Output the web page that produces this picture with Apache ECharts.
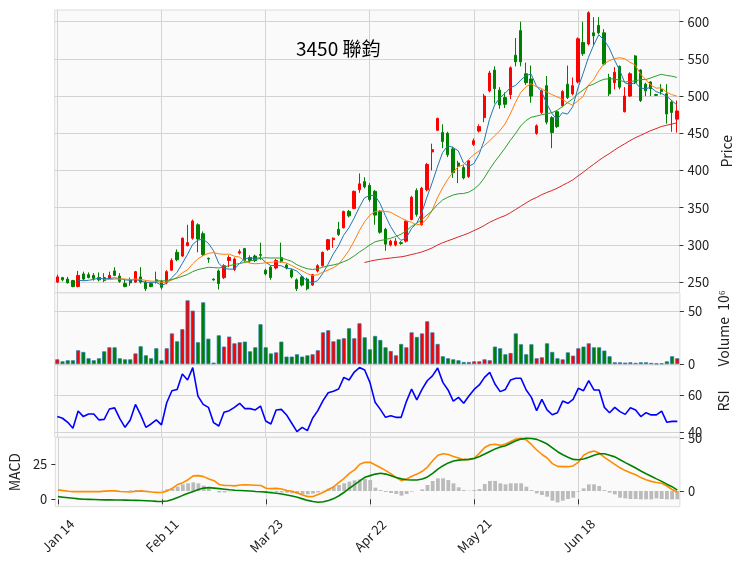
<!DOCTYPE html>
<html>
<head>
<meta charset="utf-8">
<script src="https://cdn.jsdelivr.net/npm/echarts@6/dist/echarts.min.js"></script>
<style>
  html, body { margin: 0; padding: 0; background: #fff; }
  #chart { width: 742px; height: 569px; }
</style>
</head>
<body>
<div id="chart"></div>
<script>
// x tick labels, one every 20 trading days
const tickLabels = ['Jan 14', 'Feb 11', 'Mar 23', 'Apr 22', 'May 21', 'Jun 18'];

// daily prices
const opens = [250,256,254,252,244,261,260,259,256,256,255,265,258,248,253,250,257,250,248,253,
  251,249,266,290,285,299,309,327,315,282,254,265,256,279,267,289,295,283,285,287,
  266,270,269,283,273,266,253,257,254,246,265,272,294,307,321,323,345,349,374,385,
  380,372,345,321,300,300,303,305,334,373,327,374,425,454,451,450,429,410,404,392,
  435,453,471,507,535,508,498,502,555,588,530,523,450,478,514,471,479,487,516,503,
  519,572,570,585,595,585,525,518,540,479,500,554,535,516,519,502,509,503,492,469];
const closes = [257,253,249,244,259,254,256,255,253,252,259,259,251,244,249,264,250,241,244,250,
  243,264,279,280,309,303,332,308,287,281,253,248,272,283,281,291,279,279,279,286,
  261,256,279,278,269,257,241,246,241,260,272,290,307,309,314,345,339,372,382,378,
  361,340,317,301,305,305,302,332,364,341,376,408,428,470,439,421,397,406,390,413,
  440,459,500,531,510,488,489,538,546,546,518,500,460,507,465,451,459,506,498,514,
  577,557,612,581,585,543,503,532,512,500,530,518,494,507,510,501,506,476,478,480];
const lows = [249,251,248,243,243,252,255,252,251,250,254,258,249,243,245,249,248,238,243,248,
  240,247,265,278,284,298,307,290,285,276,252,240,254,270,265,287,277,276,277,280,
  259,253,267,276,267,255,238,244,239,245,263,271,292,296,312,322,337,348,370,376,
  358,327,315,292,298,298,300,303,333,338,326,372,400,453,430,418,390,383,388,390,
  433,451,465,505,490,483,484,496,540,540,515,491,448,476,462,430,457,485,496,501,
  517,554,568,568,583,541,500,509,509,478,499,516,492,500,500,500,502,463,452,451];
const highs = [260,257,257,253,265,264,263,262,263,262,264,270,262,253,256,265,270,252,250,264,
  253,266,282,294,310,327,334,329,318,283,255,267,274,286,283,294,296,286,287,303,
  268,272,281,303,275,268,255,259,256,261,274,291,308,310,331,346,347,373,396,391,
  383,374,347,323,307,309,305,334,366,376,378,410,436,471,462,452,432,413,407,414,
  443,462,503,534,540,512,505,540,578,600,545,541,462,509,527,473,481,508,541,525,
  579,600,614,606,606,590,530,539,541,512,532,555,536,518,520,503,516,516,494,494];

// volume, millions of shares
const volumes = [4.4,2.5,3.5,3.5,13,11.4,5.4,3.5,5.4,12,15.8,15.8,5.4,4.4,4.4,10,16.8,8.2,5.4,14.9,
  3.5,14.9,29,21.5,33,60.4,50.6,20.6,58.5,24,1.3,27.2,16.5,26,19.6,20.6,21.2,12,15.8,37.7,
  15.8,10,11,21.2,7,7,9.2,7,8.2,9.2,13,30,32,21.5,23.4,24.4,33.9,24.4,38.6,25.3,
  13.9,26.6,22.8,15.8,12.3,8.2,19,15.8,30,25.6,29,40.5,30,19,7.3,5.4,4.4,3.5,1.9,1.9,
  2.5,2.5,4.4,3.5,16.5,14.9,9.2,10.4,29,18.7,9.2,18.7,5.4,6.3,19.6,11.4,5.4,4.4,11,7.9,
  14.9,16.5,19.6,15.8,15.8,12.7,7.3,1.6,1.6,1.3,1.6,1.0,1.6,1.6,1.0,0.3,0.6,2.5,7.3,5.4];

const rsi = [48.5,47.6,45.4,42.2,51.5,48.5,49.9,49.9,46.7,47,52.6,53.2,47.4,42.7,46.7,55.1,49.4,42.7,44.5,46.7,
  44,56,62.5,63.2,71.5,68.3,75,59.6,55.1,53.5,45.2,43.4,50.8,51.7,53.5,55.7,52.8,52.8,52.1,54.2,
  46.1,44.5,52.1,52.4,49.4,44.9,40.4,42.7,40.9,47.6,51.7,57.1,61.4,62.2,63.4,69.7,68.3,72.6,75,73.7,
  67,56.2,52.4,48.1,49,48.1,48.1,56.6,63.4,57.5,63.2,67.9,70.5,74.8,67,62.9,56.9,58.9,55.7,59.6,
  63.2,65.6,69.7,72.4,66.1,62,63.2,68.3,69.2,69.2,62.9,58.9,51.7,57.8,52.1,49.5,50.6,56.9,55.7,57.8,
  63.8,62.5,67.9,62.9,62.9,53.5,50.6,53.5,51.2,49.7,53.3,52.1,48.5,50.6,49.4,49.4,51.5,45.4,45.9,45.9];

const macdLine = [6.7,6.2,5.7,5.5,5.5,5.5,5.6,5.5,5.5,5.8,6.0,6.0,5.6,5.4,5.2,5.7,6.0,5.6,5.2,4.8,
  4.8,6.0,8.0,10.5,11.9,14,16.7,16.9,16.2,14.5,13.3,10.5,9.8,9.8,9.6,10.2,10.4,10.2,10.0,9.8,
  7.9,7.6,7.8,7.4,6.2,5.7,4.5,3.0,1.9,2.0,3.5,5.0,7.0,9.0,12,15,18.5,21,25,26.5,
  26.4,24.5,22.5,20.5,18.2,15.5,13.3,14.5,16.5,18,20,23,27.5,31.5,32.5,32,30.5,29.5,28.3,28.5,
  29.5,33,37,39,39.3,38.5,39.5,41.3,43,43.6,42.4,39,35.2,32,29.5,25.5,23.5,23.3,23.3,23.8,
  26.5,31.5,33.5,34.5,33,30,27.5,25,22.5,20.5,19,17.5,15.5,14,12.8,12,11.4,9.5,7,5];
const signalLine = [1.9,1.5,1.1,0.7,0.3,0,-0.1,-0.2,-0.3,-0.4,-0.4,-0.5,-0.5,-0.6,-0.7,-0.8,-0.9,-1.0,-1.2,-1.5,
  -1.6,-1.2,-0.2,1.2,2.8,4.3,5.6,7,8,8.3,8,7.6,7.2,6.8,6.5,6.3,6.1,5.9,5.6,5.4,
  5.1,4.7,4.3,3.8,3.1,2.3,1.4,0.3,-0.8,-1.6,-2.1,-1.8,-0.8,0.5,2.5,5,7.9,10.5,13.2,15.8,
  16.9,18,18.6,18,16.8,15.5,14.6,14,13.8,13.8,14.5,16,18.5,21.5,24,26,27.3,28,28.3,28.5,
  29.2,30.5,32.3,34.2,36,37.3,38.3,40,41.8,43,43.6,43.4,42.8,41.3,39.5,36.8,34,31.8,30,28.5,
  28.2,28.8,30,31.5,32.5,32.5,31.5,30.3,28.2,26.2,24.3,22.3,20.2,18.3,16.5,14.6,12.8,10.8,9,6.5];
const macdHist = [0,0,0,0,0,0,0,0,0,0,0,0,0,0,0.6,0.9,0.6,0.3,0,-0.3,
  0.3,1.6,2.5,4.1,6.3,7.3,8.2,7.3,5.1,1.9,0,-1.3,-1.3,-0.3,0,0,0,0,0,0,
  -0.3,-0.6,-0.9,-1.3,-1.6,-2.2,-2.8,-3.2,-3.2,-2.5,-1.3,0.3,2.2,4.1,5.7,7.3,8.9,10.1,11.1,11.7,
  10.4,3.2,0.9,-0.9,-1.9,-2.8,-4.4,-2.8,-0.6,0,1.6,5.7,9.5,12,12,10.4,7.3,3.5,0.9,0.3,
  0.9,1.9,6.6,9.5,9.5,7.3,6.3,7.3,7.3,7.3,4.1,0.9,-2.2,-3.8,-5.4,-9.2,-10.8,-9.2,-7.6,-6.3,
  -0.6,2.5,6.3,6.3,4.7,0.9,-1.6,-3.2,-6.3,-7,-7.6,-7.6,-7.9,-7.9,-7.9,-7,-7.6,-7.9,-7.9,-7.9];

const FONT = 'Noto Sans CJK TC';
const UP = '#ff0000';
const DOWN = '#008000';

function movingAverage(values, n) {
  return values.map((v, i) => {
    if (i < n - 1) return '-';
    let s = 0;
    for (let k = i - n + 1; k <= i; k++) s += values[k];
    return +(s / n).toFixed(2);
  });
}

const days = closes.map((c, i) => i);
const candles = opens.map((o, i) => [o, closes[i], lows[i], highs[i]]);
const volumeBars = volumes.map((v, i) => ({
  value: v,
  itemStyle: { color: closes[i] >= opens[i] ? UP : DOWN }
}));

const onTick = (i) => i % 20 === 0;
const labelStyle = { fontFamily: FONT, fontSize: 13, color: '#222' };

const grids = [
  { top: 10, height: 282.5 },
  { top: 293, height: 71 },
  { top: 365, height: 72 },
  { top: 437.7, height: 69 }
].map(g => Object.assign(g, {
  left: 54.7, right: 62.1, show: true,
  backgroundColor: '#fafafa', borderColor: '#dddddd', borderWidth: 1
}));

const xAxes = [0, 1, 2, 3].map(g => ({
  type: 'category', gridIndex: g, data: days, boundaryGap: true,
  axisLine: { show: false },
  axisTick: { show: g === 3, alignWithLabel: true, interval: onTick, length: 5, lineStyle: { color: '#333' } },
  axisLabel: Object.assign({
    show: g === 3, interval: onTick, formatter: (v, i) => tickLabels[i / 20],
    rotate: 45, align: 'center', verticalAlign: 'middle', margin: 29
  }, labelStyle),
  splitLine: { show: true, alignWithLabel: true, interval: onTick, lineStyle: { color: '#d3d3d3', width: 1 } }
}));

function valueAxis(grid, pos, min, max, ticks, name, nameGap, grid_lines) {
  return {
    type: 'value', gridIndex: grid, position: pos, min: min, max: max,
    name: name, nameLocation: 'middle', nameRotate: 90, nameGap: nameGap,
    nameTextStyle: { fontFamily: FONT, fontSize: 14, color: '#222' },
    axisLine: { show: false },
    axisTick: { show: true, customValues: ticks, length: 4, lineStyle: { color: '#333' } },
    axisLabel: Object.assign({ customValues: ticks, margin: 8 }, labelStyle),
    splitLine: { show: grid_lines, lineStyle: { color: '#d3d3d3', width: 1 } }
  };
}

const yAxes = [
  valueAxis(0, 'right', 236, 615.7, [250, 300, 350, 400, 450, 500, 550, 600], 'Price', 39, true),
  valueAxis(1, 'right', 0, 67.4, [0, 50], 'Volume  10\u2076', 37, true),
  valueAxis(2, 'right', 37.46, 76.4, [40, 60], 'RSI', 37, true),
  valueAxis(3, 'left', -5.3, 44, [0, 25], 'MACD', 32, false),
  valueAxis(3, 'right', -14.9, 50.6, [0, 50], '', 0, false)
];

const maLine = (n, color) => ({
  type: 'line', xAxisIndex: 0, yAxisIndex: 0, data: movingAverage(closes, n),
  showSymbol: false, smooth: false, lineStyle: { color: color, width: 1 }, z: 3
});

const chart = echarts.init(document.getElementById('chart'));
chart.setOption({
  animation: false,
  backgroundColor: '#ffffff',
  title: {
    text: '3450 聯鈞', left: 291, top: 34,
    textStyle: { fontFamily: FONT, fontSize: 19, fontWeight: 'normal', color: '#000' }
  },
  grid: grids,
  xAxis: xAxes,
  yAxis: yAxes,
  series: [
    {
      type: 'candlestick', xAxisIndex: 0, yAxisIndex: 0, data: candles, barWidth: 2.8,
      itemStyle: { color: UP, color0: DOWN, borderColor: UP, borderColor0: DOWN, borderWidth: 1 }, z: 2
    },
    maLine(5, '#1f77b4'),
    maLine(10, '#ff7f0e'),
    maLine(20, '#2ca02c'),
    maLine(60, '#d62728'),
    {
      type: 'bar', xAxisIndex: 1, yAxisIndex: 1, data: volumeBars, barWidth: 4,
      itemStyle: { borderColor: '#1f77b4', borderWidth: 0.7 }
    },
    {
      type: 'line', xAxisIndex: 2, yAxisIndex: 2, data: rsi, showSymbol: false,
      lineStyle: { color: '#0000ff', width: 1.6 }
    },
    {
      type: 'bar', xAxisIndex: 3, yAxisIndex: 4, data: macdHist, barWidth: 3.8,
      itemStyle: { color: '#bbbbbb' }
    },
    {
      type: 'line', xAxisIndex: 3, yAxisIndex: 3, data: macdLine, showSymbol: false,
      lineStyle: { color: '#ff8c00', width: 1.6 }
    },
    {
      type: 'line', xAxisIndex: 3, yAxisIndex: 3, data: signalLine, showSymbol: false,
      lineStyle: { color: '#008000', width: 1.6 }
    }
  ]
});
</script>
</body>
</html>
